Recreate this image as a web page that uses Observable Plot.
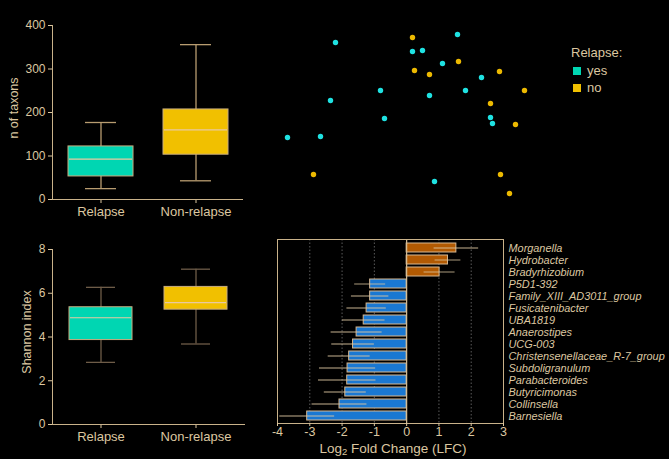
<!DOCTYPE html>
<html>
<head>
<meta charset="utf-8">
<script src="https://cdn.jsdelivr.net/npm/d3@7"></script>
<script src="https://cdn.jsdelivr.net/npm/@observablehq/plot@0.6"></script>
<style>
  html, body { margin: 0; padding: 0; background: #000; }
  #chart { position: relative; width: 669px; height: 459px; background: #000; overflow: hidden;
           font-family: "Liberation Sans", Arial, sans-serif; color: #dcc7a0; }
  #chart > .panel { position: absolute; }
  .ytitle { position: absolute; white-space: nowrap; font-size: 12.5px; transform: translate(-50%, -50%) rotate(-90deg); }
  .legend { position: absolute; font-size: 13px; line-height: 15px; }
  .legend .sw { display: inline-block; width: 8px; height: 8px; margin-right: 6px; vertical-align: 0px; }
  .xtitle { position: absolute; white-space: nowrap; font-size: 13.5px; line-height: 13px; transform: translateX(-50%); }
  .xtitle sub { font-size: 9.5px; line-height: 0; vertical-align: -2px; }
</style>
</head>
<body>
<div id="chart"></div>
<script>
// ---- colours ----
const tan = "#dcc7a0";
const teal = "#00d6b2";
const gold = "#f1c000";
const cyan = "#1fe2e2";
const amber = "#ecb900";
const barBlue = "#1a78d2";
const barOrange = "#b25a02";
const font = "'Liberation Sans', Arial, sans-serif";

// ---- box plot summaries (Relapse vs Non-relapse) ----
const groups = ["Relapse", "Non-relapse"];
const taxaLow = [25, 43];
const taxaQ1 = [53, 103];
const taxaMedian = [93, 160];
const taxaQ3 = [122, 207];
const taxaHigh = [177, 356];

const shannonLow = [2.84, 3.68];
const shannonQ1 = [3.86, 5.25];
const shannonMedian = [4.88, 5.57];
const shannonQ3 = [5.36, 6.29];
const shannonHigh = [6.27, 7.10];

// ---- ordination scores by relapse status ----
const pc1Yes = [-0.65, 0.57, 0.12, 0.22, 0.42, 0.81, -0.20, -0.70, 0.29, 0.65, -0.16, 0.90, 0.92, -1.13, -0.80, 0.34];
const pc2Yes = [0.68, 0.76, 0.59, 0.60, 0.47, 0.33, 0.20, 0.10, 0.15, 0.20, -0.08, -0.07, -0.13, -0.27, -0.26, -0.71];
const pc1No = [0.12, 0.58, 0.14, 0.29, 0.99, 1.24, 0.90, 1.15, -0.87, 1.00, 1.09];
const pc2No = [0.73, 0.49, 0.40, 0.36, 0.39, 0.20, 0.07, -0.14, -0.64, -0.64, -0.83];

// ---- differential abundance (log2 fold change ± error) ----
const taxa = ["Morganella", "Hydrobacter", "Bradyrhizobium", "P5D1-392", "Family_XIII_AD3011_group",
  "Fusicatenibacter", "UBA1819", "Anaerostipes", "UCG-003", "Christensenellaceae_R-7_group",
  "Subdoligranulum", "Parabacteroides", "Butyricimonas", "Collinsella", "Barnesiella"];
const lfc = [1.54, 1.28, 1.02, -1.13, -1.13, -1.24, -1.33, -1.55, -1.66, -1.78, -1.83, -1.84, -1.90, -2.08, -3.08];
const lfcErr = [0.69, 0.40, 0.48, 0.48, 0.58, 0.61, 0.66, 0.79, 0.66, 0.65, 0.87, 0.89, 0.65, 0.85, 0.85];
const lfcTicks = [-4, -3, -2, -1, 0, 1, 2, 3];

const chart = document.getElementById("chart");
function place(el, left, top) {
  el.classList.add("panel");
  el.style.left = left + "px";
  el.style.top = top + "px";
  chart.appendChild(el);
}

function boxRows(lo, q1, med, q3, hi) {
  return groups.map((g, i) => ({group: g, lo: lo[i], q1: q1[i], med: med[i], q3: q3[i], hi: hi[i]}));
}

function boxPlot({rows, width, height, margins, yDomain, yTicks, padIn, padOut, whisker}) {
  return Plot.plot({
    width, height,
    marginLeft: margins[0], marginRight: margins[1], marginTop: margins[2], marginBottom: margins[3],
    style: {background: "transparent", color: tan, fontFamily: font, fontSize: "12px"},
    x: {domain: groups, paddingInner: padIn, paddingOuter: padOut, label: null, axis: null},
    y: {domain: yDomain, label: null, axis: null},
    color: {domain: groups, range: [teal, gold]},
    marks: [
      Plot.ruleX(rows, {x: "group", y1: "lo", y2: "hi", stroke: whisker, strokeWidth: 1.3}),
      Plot.tickY(rows, {x: "group", y: "lo", stroke: whisker, strokeWidth: 1.3, inset: 17}),
      Plot.tickY(rows, {x: "group", y: "hi", stroke: whisker, strokeWidth: 1.3, inset: 17}),
      Plot.barY(rows, {x: "group", y1: "q1", y2: "q3", fill: "group", stroke: "#c9ad80", strokeWidth: 1}),
      Plot.tickY(rows, {x: "group", y: "med", stroke: "#e9c9a0", strokeWidth: 1.2, inset: 1}),
      Plot.axisY({ticks: yTicks, tickSize: 4, tickPadding: 3, label: null, fontSize: 12}),
      Plot.axisX({tickSize: 4, tickPadding: 3, label: null, fontSize: 13}),
      Plot.frame({anchor: "left", stroke: "#c9b28a"}),
      Plot.ruleY([yDomain[0]], {stroke: "#c9b28a"})
    ]
  });
}

// top-left: number of taxa
place(boxPlot({
  rows: boxRows(taxaLow, taxaQ1, taxaMedian, taxaQ3, taxaHigh),
  width: 260, height: 225, margins: [52, 17, 25, 26],
  yDomain: [0, 400], yTicks: [0, 100, 200, 300, 400],
  padIn: 0.316, padOut: 0.163, whisker: "#b89c70"
}), 0, 0);

// bottom-left: Shannon diversity
place(boxPlot({
  rows: boxRows(shannonLow, shannonQ1, shannonMedian, shannonQ3, shannonHigh),
  width: 260, height: 229, margins: [52, 15, 19, 35],
  yDomain: [0, 8], yTicks: [0, 2, 4, 6, 8],
  padIn: 0.333, padOut: 0.172, whisker: "#6e5c48"
}), 0, 230);

// axis titles for the box plots
for (const [text, x, y] of [["n of taxons", 14, 108], ["Shannon index", 27, 332]]) {
  const d = document.createElement("div");
  d.className = "ytitle";
  d.textContent = text;
  d.style.left = x + "px";
  d.style.top = y + "px";
  chart.appendChild(d);
}

// top-right: ordination scatter
const points = [
  ...pc1Yes.map((v, i) => ({pc1: v, pc2: pc2Yes[i], relapse: "yes"})),
  ...pc1No.map((v, i) => ({pc1: v, pc2: pc2No[i], relapse: "no"}))
];
place(Plot.plot({
  width: 280, height: 210, margin: 0,
  style: {background: "transparent"},
  x: {domain: [-1.3, 1.5], axis: null},
  y: {domain: [-1.0, 1.1], axis: null},
  color: {domain: ["yes", "no"], range: [cyan, amber]},
  marks: [
    Plot.dot(points, {x: "pc1", y: "pc2", fill: "relapse", r: 2.7, stroke: "none"})
  ]
}), 270, 0);

// legend
const legend = document.createElement("div");
legend.className = "legend";
legend.style.left = "571px";
legend.style.top = "45px";
legend.innerHTML = `<div style="margin-bottom:3px">Relapse:</div>` +
  [["yes", teal], ["no", gold]].map(([k, c]) =>
    `<div style="margin-left:2px;margin-bottom:2px"><span class="sw" style="background:${c}"></span>${k}</div>`).join("");
chart.appendChild(legend);

// bottom-right: log2 fold change bars
const lfcRows = taxa.map((t, i) => ({taxon: t, lfc: lfc[i], lo: lfc[i] - lfcErr[i], hi: lfc[i] + lfcErr[i],
  dir: lfc[i] > 0 ? "up" : "down"}));
place(Plot.plot({
  width: 399, height: 229,
  marginLeft: 7, marginRight: 166, marginTop: 9, marginBottom: 36,
  style: {background: "transparent", color: tan, fontFamily: font, fontSize: "13px"},
  x: {domain: [-4, 3], label: null, axis: null},
  y: {domain: taxa, paddingInner: 0.29, paddingOuter: 0.2, axis: null, label: null},
  color: {domain: ["up", "down"], range: [barOrange, barBlue]},
  marks: [
    Plot.ruleX([-3, -2, -1, 1, 2], {stroke: "#5a5a5a", strokeDasharray: "1.5,2"}),
    Plot.barX(lfcRows, {x: "lfc", y: "taxon", fill: "dir", stroke: "#d8b890", strokeWidth: 1}),
    Plot.ruleY(lfcRows, {y: "taxon", x1: "lo", x2: "hi", stroke: "#dcc7a0", strokeOpacity: 0.6, strokeWidth: 1.3}),
    Plot.ruleX([0], {stroke: "#d8c098", strokeWidth: 1.2}),
    Plot.frame({stroke: "#c9b28a"}),
    Plot.text(lfcRows, {x: 3, y: "taxon", text: "taxon", dx: 5, textAnchor: "start",
      fontStyle: "italic", fontSize: 10.9, fill: tan}),
    Plot.axisX({ticks: lfcTicks, tickSize: 3, tickPadding: 1, tickFormat: d => String(d), fontSize: 12.5, label: null})
  ]
}), 270, 230);

// x title with subscript
const xt = document.createElement("div");
xt.className = "xtitle";
xt.innerHTML = "Log<sub>2</sub> Fold Change (LFC)";
xt.style.left = "393px";
xt.style.top = "442px";
chart.appendChild(xt);
</script>
</body>
</html>
